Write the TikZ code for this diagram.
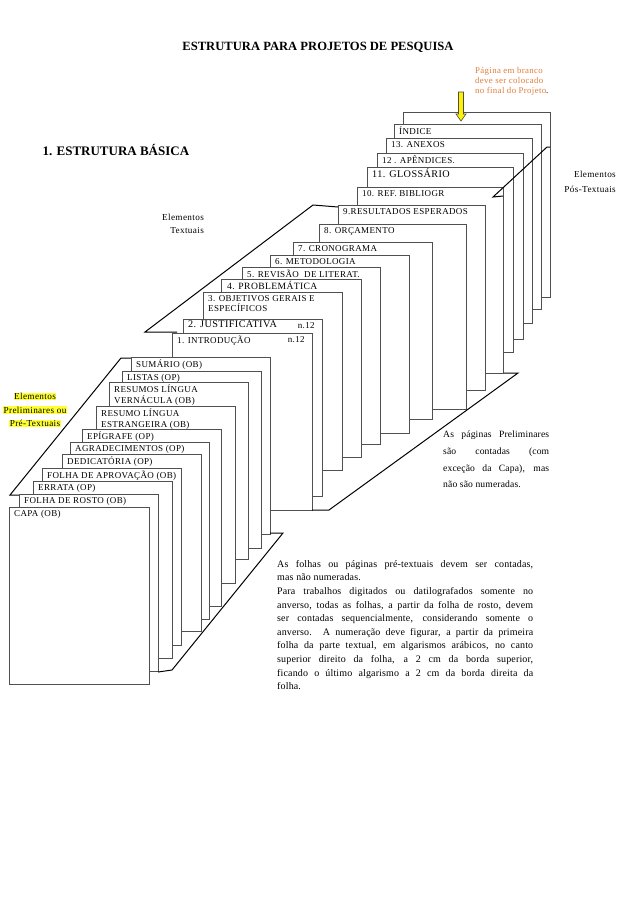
\documentclass[tikz,border=0pt]{standalone}
\usepackage{fontspec}
\setmainfont{Liberation Serif}
\newfontfamily\ls{Liberation Serif}[LetterSpace=4]
\newfontfamily\lsn{Liberation Serif}[LetterSpace=1.5]
\definecolor{pgline}{HTML}{505050}
\definecolor{orangetxt}{HTML}{E07B39}
\definecolor{hl}{HTML}{FFFF33}
\tikzset{
  page/.style={draw=pgline,fill=white,line width=0.9pt,inner sep=0pt,rectangle},
  lbl/.style={anchor=north west,inner sep=0pt,font=\ls\fontsize{9}{10.4}\selectfont,align=left},
  bracket/.style={draw=black,line width=1pt,line join=miter},
  note/.style={inner sep=0pt,align=justify},
}
\newcommand\pg[6]{\node[page,minimum width=#4pt,minimum height=#5pt,anchor=north west] (#1) at (#2,#3) {};
  \node[lbl] (#1l) at ([xshift=5pt,yshift=-3pt]#1.north west) {#6};}
\begin{document}
\begin{tikzpicture}[x=1pt,y=-1pt]
\useasboundingbox (0,0) rectangle (638,903);
\hyphenpenalty=10000 \exhyphenpenalty=10000
% titles
\node[font=\bfseries\fontsize{12.6}{14}\selectfont] (title) at (318,47) {ESTRUTURA PARA PROJETOS DE PESQUISA};
\node[font=\bfseries\fontsize{13}{15}\selectfont,anchor=west] (sub) at (39,150) {1. ESTRUTURA BÁSICA};
% orange note
\node[anchor=north west,inner sep=0pt,align=left,text=orangetxt,font=\ls\fontsize{8.8}{10.2}\selectfont] (blanknote) at (475,67) {Página em branco\\deve ser colocado\\no final do Projeto\textcolor{black}{.}};
% brackets behind pages
\coordinate (b1) at (19,495); \coordinate (b2) at (10,495); \coordinate (b3) at (121,358); \coordinate (b4) at (131,358);
\draw[bracket] (b1) -- (b2) -- (b3) -- (b4);
\coordinate (t1) at (177,332); \coordinate (t2) at (145,332); \coordinate (t3) at (313,205); \coordinate (t4) at (338,207);
\draw[bracket] (t1) -- (t2) -- (t3) -- (t4);
% textual pages (back to front)
\pg{blank}{403}{112}{147}{185}{}
\pg{indice}{394}{124}{147}{185}{ÍNDICE}
\pg{anexos}{386}{138}{146}{185}{13. ANEXOS}
\pg{apend}{377}{153}{146}{186}{12 . APÊNDICES.}
\node[page,minimum width=146pt,minimum height=185pt,anchor=north west] (gloss) at (367,167) {};
\node[lbl,font=\ls\fontsize{10.2}{11}\selectfont] (glossl) at ([xshift=5pt,yshift=-2pt]gloss.north west) {11. GLOSSÁRIO};
\pg{ref}{357}{187}{146}{186}{10. REF. BIBLIOGR}
\pg{res}{338}{205}{147}{185}{9.RESULTADOS ESPERADOS}
\pg{orc}{319}{224}{147}{185}{8. ORÇAMENTO}
\pg{cron}{293}{242}{139}{177}{7. CRONOGRAMA}
\pg{meto}{270}{255}{139}{178}{6. METODOLOGIA}
\pg{rev}{242}{267}{138}{177}{5. REVISÃO\ \ DE LITERAT.}
\node[page,minimum width=140pt,minimum height=178pt,anchor=north west] (prob) at (221,279) {};
\node[lbl,font=\ls\fontsize{9.6}{11}\selectfont] (probl) at ([xshift=6pt,yshift=-2.5pt]prob.north west) {4. PROBLEMÁTICA};
\pg{obj}{203}{292}{139}{178}{3. OBJETIVOS GERAIS E\\ESPECÍFICOS}
\node[page,minimum width=139pt,minimum height=177pt,anchor=north west] (just) at (183,319) {};
\node[lbl,font=\ls\fontsize{10.2}{11}\selectfont] (justl) at ([xshift=5pt,yshift=-2pt]just.north west) {2. JUSTIFICATIVA};
\node[lbl,anchor=north east] (justn) at ([xshift=-8pt,yshift=-3.5pt]just.north east) {n.12};
\pg{intro}{172}{333}{140}{177}{1. INTRODUÇÃO}
\node[lbl,anchor=north east] (intron) at ([xshift=-8pt,yshift=-3pt]intro.north east) {n.12};
% preliminary pages (back to front)
\pg{sum}{131}{357}{139}{177}{SUMÁRIO (OB)}
\pg{listas}{122}{371}{139}{177}{LISTAS (OP)}
\pg{rlv}{109}{382}{139}{177}{RESUMOS LÍNGUA\\VERNÁCULA (OB)}
\pg{rle}{96}{406}{139}{177}{RESUMO LÍNGUA\\ESTRANGEIRA (OB)}
\pg{epi}{82}{429}{139}{177}{EPÍGRAFE (OP)}
\pg{agr}{70}{442}{139}{177}{AGRADECIMENTOS (OP)}
\pg{ded}{62}{454}{139}{177}{DEDICATÓRIA (OP)}
\pg{apr}{42}{468}{139}{177}{FOLHA DE APROVAÇÃO (OB)}
\pg{err}{33}{481}{139}{177}{ERRATA (OP)}
\pg{rosto}{19}{494}{139}{177}{FOLHA DE ROSTO (OB)}
\pg{capa}{9}{507}{140}{177}{CAPA (OB)}
% brackets in front
\coordinate (c1) at (158,672); \coordinate (c2) at (172,670); \coordinate (c3) at (283,533); \coordinate (c4) at (270,533);
\draw[bracket] (c1) -- (c2) -- (c3) -- (c4);
\coordinate (d1) at (312,510); \coordinate (d2) at (329,510); \coordinate (d3) at (518,373); \coordinate (d4) at (504,373);
\draw[bracket] (d1) -- (d2) -- (d3) -- (d4);
\coordinate (p1) at (503,196); \coordinate (p2) at (493,197); \coordinate (p3) at (547,147); \coordinate (p4) at (550,147);
\draw[bracket] (p1) -- (p2) -- (p3) -- (p4);
% yellow arrow
\coordinate (arrtip) at (461,121);
\draw[draw=black!70,fill=yellow,line width=0.6pt] (458.5,92) -- (463.5,92) -- (463.5,114) -- (466,114) -- (arrtip) -- (456,114) -- (458.5,114) -- cycle;
% side labels
\node[align=right,inner sep=0pt,font=\ls\fontsize{9.2}{12.5}\selectfont] (eltex) at (183,224) {Elementos\\Textuais};
\node[align=right,inner sep=0pt,font=\ls\fontsize{9.2}{15}\selectfont,anchor=east] (elpos) at (616,182) {Elementos\\Pós-Textuais};
\setlength{\fboxsep}{0.6pt}
\node[align=center,inner sep=0pt,font=\ls\fontsize{9.2}{13.5}\selectfont] (elpre) at (35,410) {\colorbox{hl}{Elementos}\\\colorbox{hl}{Preliminares ou}\\\colorbox{hl}{Pré-Textuais}};
% notes
\node[note,anchor=north west,text width=106pt,font=\lsn\fontsize{9.6}{16.6}\selectfont] (prenote) at (443,431) {As páginas Preliminares \linebreak são contadas (com \linebreak exceção da Capa), mas \linebreak não são numeradas.};
\node[note,anchor=north west,text width=256pt,font=\lsn\fontsize{10}{13.6}\selectfont] (mainnote) at (277,560) {As folhas ou páginas pré-textuais devem ser contadas, \linebreak mas não numeradas.\\Para trabalhos digitados ou datilografados somente no \linebreak anverso, todas as folhas, a partir da folha de rosto, devem \linebreak ser contadas sequencialmente, considerando somente o \linebreak anverso. A numeração deve figurar, a partir da primeira \linebreak folha da parte textual, em algarismos arábicos, no canto \linebreak superior direito da folha, a 2 cm da borda superior, \linebreak ficando o último algarismo a 2 cm da borda direita da \linebreak folha.};
\end{tikzpicture}
\end{document}
